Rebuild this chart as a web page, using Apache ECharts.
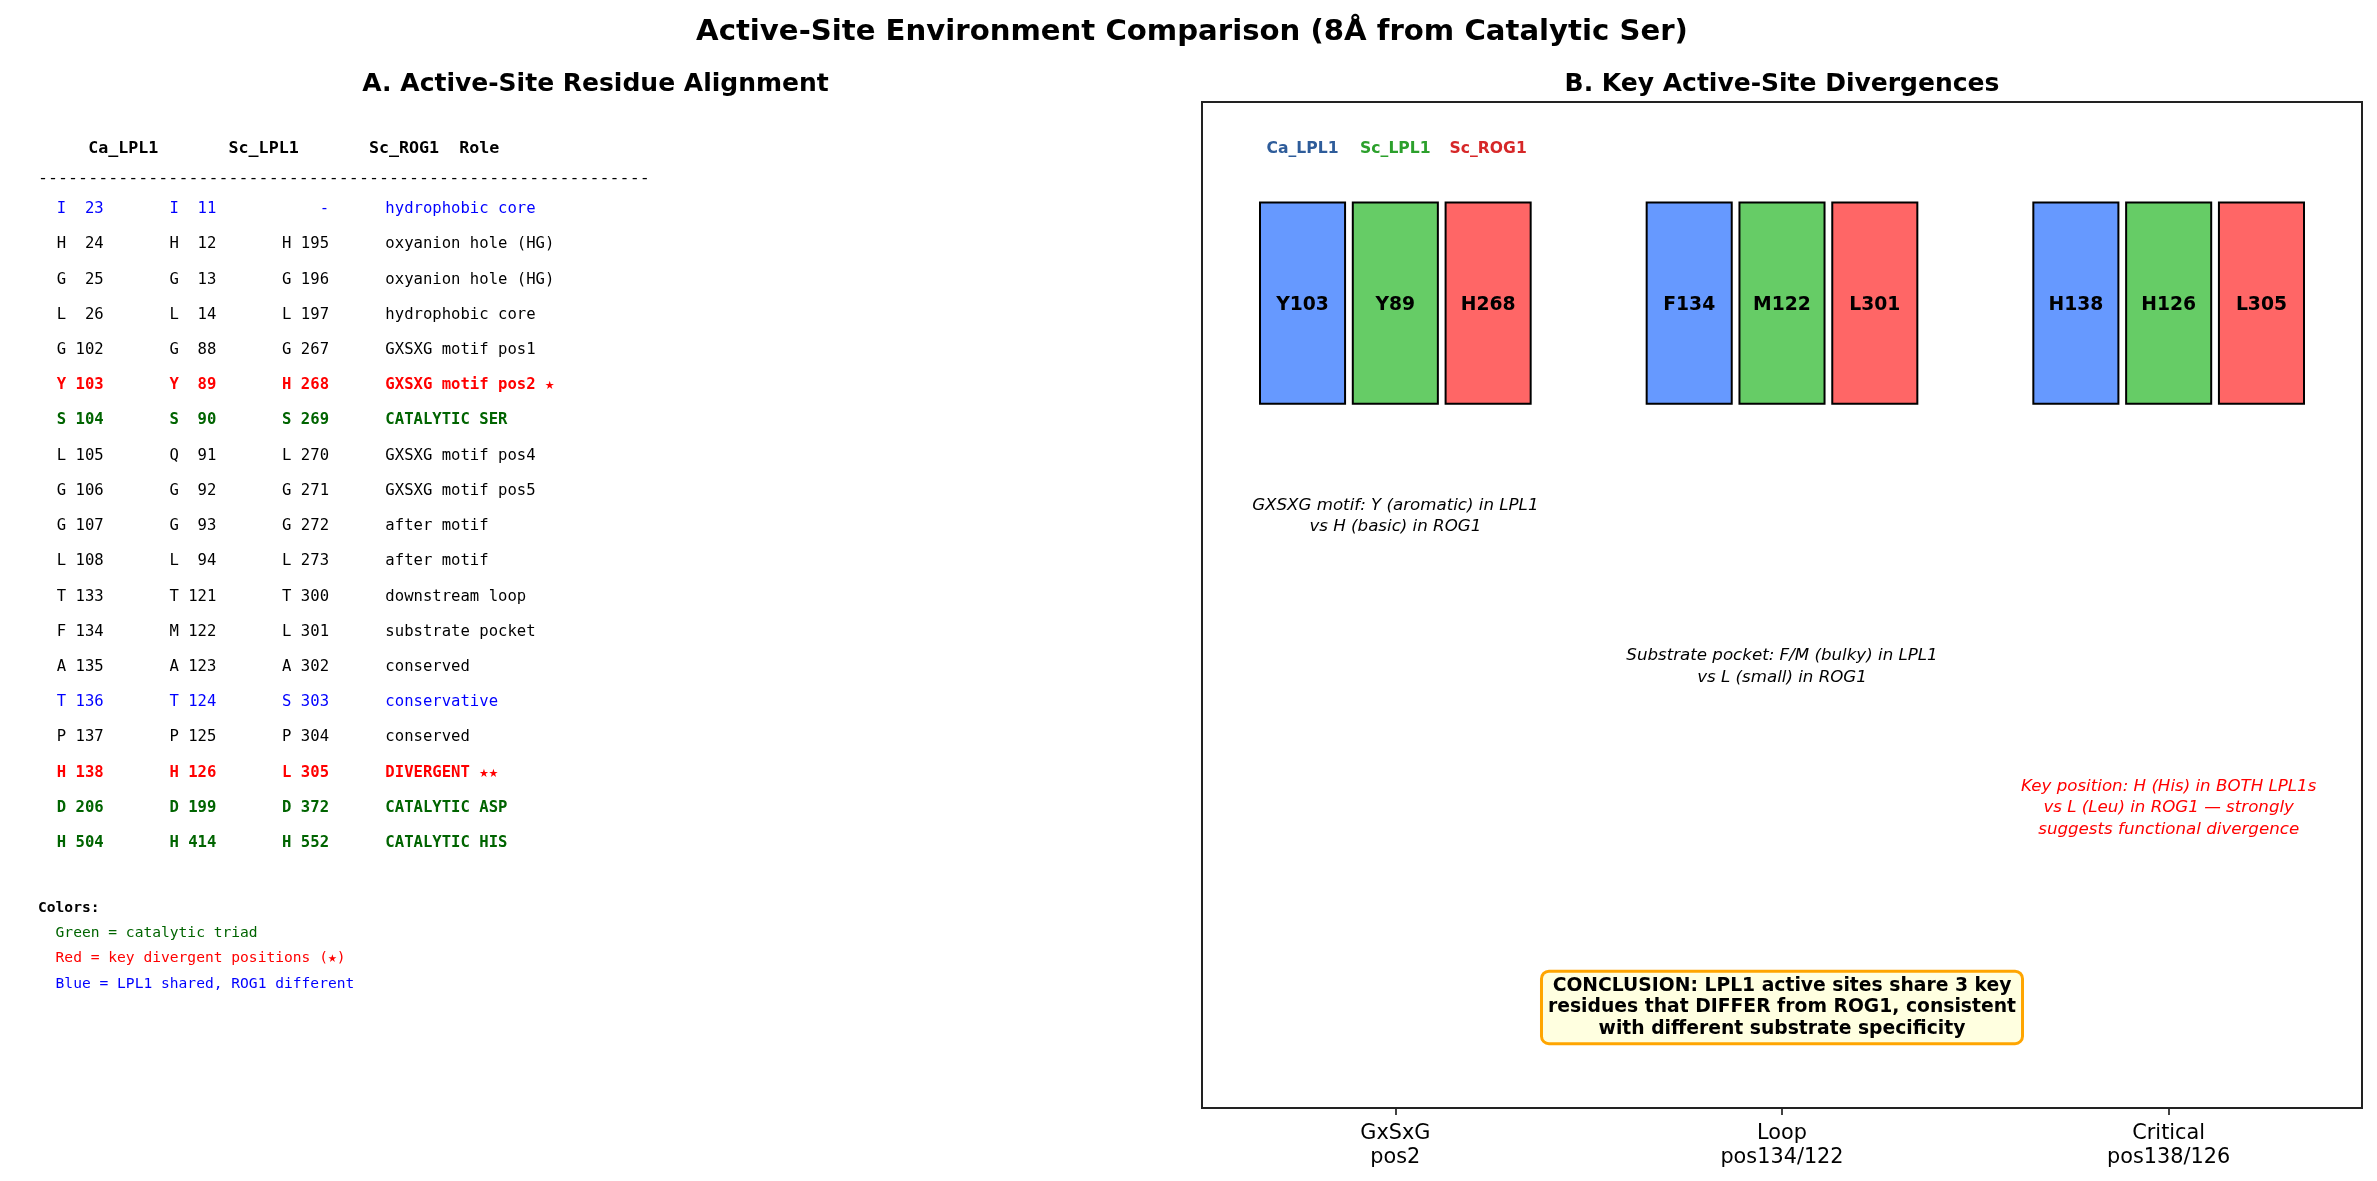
<!DOCTYPE html>
<html lang="en">
<head>
    <meta charset="UTF-8">
    <title>Active-Site Environment Comparison</title>
    <script src="https://cdn.jsdelivr.net/npm/echarts@6/dist/echarts.min.js"></script>
    <style>
        body {
            padding: 0;
            margin: 0;
            border: none;
            overflow: hidden;
            background: #fff;
        }
        #echart {
            width: 2377px;
            height: 1181px;
        }
    </style>
</head>
<body>
<div id="echart"></div>
<script>
// panel A: residue alignment table
const caLpl1 = ['I 23','H 24','G 25','L 26','G 102','Y 103','S 104','L 105','G 106','G 107','L 108','T 133','F 134','A 135','T 136','P 137','H 138','D 206','H 504'];
const scLpl1 = ['I 11','H 12','G 13','L 14','G 88','Y 89','S 90','Q 91','G 92','G 93','L 94','T 121','M 122','A 123','T 124','P 125','H 126','D 199','H 414'];
const scRog1 = ['-','H 195','G 196','L 197','G 267','H 268','S 269','L 270','G 271','G 272','L 273','T 300','L 301','A 302','S 303','P 304','L 305','D 372','H 552'];
const roles = ['hydrophobic core','oxyanion hole (HG)','oxyanion hole (HG)','hydrophobic core','GXSXG motif pos1',
    'GXSXG motif pos2 \u2605','CATALYTIC SER','GXSXG motif pos4','GXSXG motif pos5','after motif','after motif',
    'downstream loop','substrate pocket','conserved','conservative','conserved','DIVERGENT \u2605\u2605',
    'CATALYTIC ASP','CATALYTIC HIS'];
const rowClass = ['shared','','','','','key','cat','','','','','','','','shared','','key','cat','cat'];
const colorNotes = ['Green = catalytic triad','Red = key divergent positions (\u2605)','Blue = LPL1 shared, ROG1 different'];

// panel B: key divergences
const groups = ['GxSxG\npos2', 'Loop\npos134/122', 'Critical\npos138/126'];
const species = ['Ca_LPL1', 'Sc_LPL1', 'Sc_ROG1'];
const caKey = ['Y103', 'F134', 'H138'];
const scKey = ['Y89', 'M122', 'H126'];
const rogKey = ['H268', 'L301', 'L305'];
const notes = [
    'GXSXG motif: Y (aromatic) in LPL1\nvs H (basic) in ROG1',
    'Substrate pocket: F/M (bulky) in LPL1\nvs L (small) in ROG1',
    'Key position: H (His) in BOTH LPL1s\nvs L (Leu) in ROG1 \u2014 strongly\nsuggests functional divergence'
];
const conclusion = 'CONCLUSION: LPL1 active sites share 3 key\nresidues that DIFFER from ROG1, consistent\nwith different substrate specificity';

const barColors = ['#6699FF', '#66CC66', '#FF6666'];
const speciesColors = ['#2E5C9A', '#2CA02C', '#D62728'];
const classColors = {shared: '#0000FF', key: '#FF0000', cat: '#006400', '': '#000000'};

const SANS = '"DejaVu Sans"';
const MONO = '"DejaVu Sans Mono"';
const DY = 1.5; // canvas 'middle' sits a touch higher than matplotlib's center

let fmtRes = r => {
    if (r === '-') return '-';
    let p = r.split(' ');
    return p[0] + ' ' + p[1].padStart(3);
};

// text lines of panel A, y in axes fraction
let tableLines = [];
tableLines.push({text: '     Ca_LPL1       Sc_LPL1       Sc_ROG1  Role', y: 0.955, color: '#000', font: 'bold 16.67px ' + MONO});
tableLines.push({text: '-'.repeat(61), y: 0.925, color: '#000', font: '16.67px ' + MONO});
caLpl1.forEach((c, i) => {
    let line = '  ' + fmtRes(c).padEnd(12) + fmtRes(scLpl1[i]).padEnd(12) + fmtRes(scRog1[i]).padStart(5) + '      ' + roles[i];
    let bold = rowClass[i] === 'key' || rowClass[i] === 'cat';
    tableLines.push({text: line, y: 0.895 - i * 0.035, color: classColors[rowClass[i]], font: (bold ? 'bold ' : '') + '15.6px ' + MONO});
});
tableLines.push({text: 'Colors:', y: 0.20, color: '#000', font: 'bold 14.6px ' + MONO});
['cat', 'key', 'shared'].forEach((k, i) => {
    tableLines.push({text: '  ' + colorNotes[i], y: 0.175 - i * 0.025, color: classColors[k], font: '14.6px ' + MONO});
});

const keyLabels = [caKey, scKey, rogKey];
let barData = [];
let barText = [];
groups.forEach((g, gi) => {
    species.forEach((s, si) => {
        barData.push([gi, si]);
        barText.push(keyLabels[si][gi]);
    });
});

const barBase = 0.7, barTop = 0.9, barW = 0.22, barStep = 0.24;
const noteY = [0.59, 0.44, 0.30];
const noteColors = ['#000', '#000', '#FF0000'];

window.ec = echarts.init(document.getElementById('echart'), null, {renderer: 'canvas'});
window.ec.setOption({
    backgroundColor: '#fff',
    animation: false,
    graphic: [
        {type: 'text', x: 1192, y: 32.5, style: {text: 'Active-Site Environment Comparison (8\u00c5 from Catalytic Ser)', font: 'bold 29.17px ' + SANS, fill: '#000', align: 'center', verticalAlign: 'middle'}},
        {type: 'text', x: 595.5, y: 84, style: {text: 'A. Active-Site Residue Alignment', font: 'bold 25px ' + SANS, fill: '#000', align: 'center', verticalAlign: 'middle'}},
        {type: 'text', x: 1782, y: 84, style: {text: 'B. Key Active-Site Divergences', font: 'bold 25px ' + SANS, fill: '#000', align: 'center', verticalAlign: 'middle'}}
    ],
    grid: [
        {left: 1202, top: 102, width: 1160, height: 1006, show: true, borderColor: '#222', borderWidth: 2, backgroundColor: 'transparent'},
        {left: 38, top: 102, width: 1115, height: 1006}
    ],
    xAxis: [
        {
            type: 'category', gridIndex: 0, data: groups,
            axisLine: {show: true, lineStyle: {color: '#222', width: 2}},
            axisTick: {show: true, alignWithLabel: true, length: 7, lineStyle: {color: '#222', width: 1.7}},
            axisLabel: {color: '#000', fontSize: 20.8, fontFamily: 'DejaVu Sans', lineHeight: 24, margin: 14},
            splitLine: {show: false}
        },
        {type: 'value', gridIndex: 1, min: 0, max: 1, show: false}
    ],
    yAxis: [
        {type: 'value', gridIndex: 0, min: 0, max: 1, show: false, splitLine: {show: false}},
        {type: 'value', gridIndex: 1, min: 0, max: 1, show: false}
    ],
    series: [
        {
            type: 'custom', name: 'bars', xAxisIndex: 0, yAxisIndex: 0,
            data: barData,
            renderItem: (params, api) => {
                let g = api.value(0), s = api.value(1);
                let band = api.size([1, 0])[0];
                let top = api.coord([g, barTop]);
                let bot = api.coord([g, barBase]);
                let cx = top[0] + (s - 1) * barStep * band;
                let w = barW * band;
                return {
                    type: 'group',
                    children: [
                        {type: 'rect', shape: {x: cx - w / 2, y: top[1], width: w, height: bot[1] - top[1]},
                            style: {fill: barColors[s], stroke: '#000', lineWidth: 2}},
                        {type: 'text', style: {x: cx, y: (top[1] + bot[1]) / 2 + DY, text: barText[params.dataIndex],
                            font: 'bold 18.75px ' + SANS, fill: '#000', align: 'center', verticalAlign: 'middle'}}
                    ]
                };
            }
        },
        {
            type: 'custom', name: 'species', xAxisIndex: 0, yAxisIndex: 0,
            data: species.map((s, i) => [0, i]),
            renderItem: (params, api) => {
                let s = api.value(1);
                let band = api.size([1, 0])[0];
                let p = api.coord([api.value(0), 0.955]);
                return {type: 'text', style: {x: p[0] + (s - 1) * barStep * band, y: p[1] + DY, text: species[s],
                    font: 'bold 15.6px ' + SANS, fill: speciesColors[s], align: 'center', verticalAlign: 'middle'}};
            }
        },
        {
            type: 'custom', name: 'notes', xAxisIndex: 0, yAxisIndex: 0,
            data: notes.map((n, i) => [i, noteY[i]]),
            renderItem: (params, api) => {
                let p = api.coord([api.value(0), api.value(1)]);
                let i = params.dataIndex;
                return {type: 'text', style: {x: p[0], y: p[1] + DY, text: notes[i], lineHeight: 21.5,
                    font: 'italic 16.67px ' + SANS, fill: noteColors[i], align: 'center', verticalAlign: 'middle'}};
            }
        },
        {
            type: 'custom', name: 'conclusion', xAxisIndex: 0, yAxisIndex: 0,
            data: [[1, 0.10]],
            renderItem: (params, api) => {
                let p = api.coord([api.value(0), api.value(1)]);
                return {type: 'text', style: {x: p[0], y: p[1], text: conclusion, lineHeight: 21.5,
                    font: 'bold 18.75px ' + SANS, fill: '#000', align: 'center', verticalAlign: 'middle',
                    backgroundColor: '#FFFFE0', borderColor: '#FFA500', borderWidth: 3, borderRadius: 6,
                    padding: [3, 5, 2, 5]}};
            }
        },
        {
            type: 'custom', name: 'alignment', xAxisIndex: 1, yAxisIndex: 1,
            data: tableLines.map(l => [0, l.y]),
            renderItem: (params, api) => {
                let p = api.coord([api.value(0), api.value(1)]);
                let l = tableLines[params.dataIndex];
                return {type: 'text', style: {x: p[0], y: p[1] + DY, text: l.text, font: l.font, fill: l.color,
                    align: 'left', verticalAlign: 'middle'}};
            }
        }
    ]
});
</script>
</body>
</html>
